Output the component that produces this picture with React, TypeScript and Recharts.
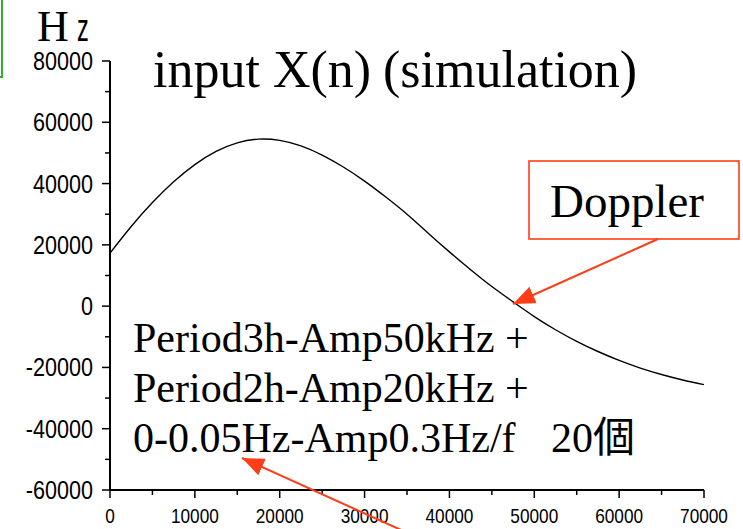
import { LineChart, Line, XAxis, YAxis } from "recharts";

// sample time (x) and simulated Doppler frequency (Hz)
const timeSteps = [
  0, 2500, 5000, 7500, 10000, 12500, 15000, 17500, 20000, 22500, 25000, 27500, 30000, 32500,
  35000, 37500, 40000, 42500, 45000, 47500, 50000, 52500, 55000, 57500, 60000, 62500, 65000,
  67500, 70000,
];
const frequencyHz = [
  17300, 26000, 33800, 40600, 46200, 50500, 53300, 54500, 54100, 52300, 49300, 45400, 40800,
  35600, 30000, 23800, 17700, 11900, 6400, 1400, -3400, -7700, -11500, -14800, -17700, -20200,
  -22300, -24100, -25600,
];

const xTicks = [
  0, 5000, 10000, 15000, 20000, 25000, 30000, 35000, 40000, 45000, 50000, 55000, 60000, 65000,
  70000,
];
const yTicks = [
  -60000, -50000, -40000, -30000, -20000, -10000, 0, 10000, 20000, 30000, 40000, 50000, 60000,
  70000, 80000,
];

const titleParts = ["input X(n)", "(simulation)"];
const unitLabel = ["H", "z"];
const calloutText = "Doppler";
const noteLines = ["Period3h-Amp50kHz +", "Period2h-Amp20kHz +", "0-0.05Hz-Amp0.3Hz/f"];
const noteTail = "20個";

const data = timeSteps.map((t, i) => ({ t, hz: frequencyHz[i] }));

const AXIS_FONT = "'Liberation Sans', Arial, sans-serif";
const SERIF = "'Liberation Serif', 'Times New Roman', 'Noto Sans CJK JP', serif";
const ARROW = "#ff3d17";

const YTick = ({ x, y, payload }: any) => {
  const major = payload.value % 20000 === 0;
  const axisX = x + 17;
  return (
    <g>
      <line x1={axisX - (major ? 8 : 5)} x2={axisX} y1={y} y2={y} stroke="#000" strokeWidth={1.5} />
      {major && (
        <text
          transform={`translate(${x},${y + 9}) scale(0.83,1)`}
          textAnchor="end"
          fontFamily={AXIS_FONT}
          fontSize={26}
          fill="#000"
        >
          {payload.value}
        </text>
      )}
    </g>
  );
};

const XTick = ({ x, y, payload }: any) => {
  const major = payload.value % 10000 === 0;
  const axisY = y - 18;
  return (
    <g>
      <line x1={x} x2={x} y1={axisY} y2={axisY + (major ? 8 : 5)} stroke="#000" strokeWidth={1.5} />
      {major && (
        <text
          transform={`translate(${x},${axisY + 33}) scale(0.82,1)`}
          textAnchor="middle"
          fontFamily={AXIS_FONT}
          fontSize={21}
          fill="#000"
        >
          {payload.value}
        </text>
      )}
    </g>
  );
};

export default function App() {
  return (
    <div style={{ position: "absolute", left: 0, top: 0, width: 743, height: 529, background: "#fff" }}>
      <LineChart width={743} height={529} data={data} margin={{ top: 61, right: 39, bottom: 9, left: 10 }}>
        <XAxis
          dataKey="t"
          type="number"
          domain={[0, 70000]}
          ticks={xTicks}
          interval={0}
          tickSize={8}
          tickMargin={10}
          tickLine={false}
          axisLine={{ stroke: "#000", strokeWidth: 2 }}
          tick={<XTick />}
          height={30}
        />
        <YAxis
          type="number"
          domain={[-60000, 80000]}
          ticks={yTicks}
          interval={0}
          tickSize={8}
          tickMargin={9}
          tickLine={false}
          axisLine={{ stroke: "#000", strokeWidth: 2 }}
          tick={<YTick />}
          width={100}
        />
        <Line
          type="natural"
          dataKey="hz"
          stroke="#000"
          strokeWidth={1.4}
          dot={false}
          isAnimationActive={false}
        />
      </LineChart>

      <svg width={743} height={529} style={{ position: "absolute", left: 0, top: 0, pointerEvents: "none" }}>
        <defs>
          <marker
            id="head"
            markerUnits="userSpaceOnUse"
            markerWidth={22}
            markerHeight={18}
            viewBox="0 0 22 18"
            refX={22}
            refY={9}
            orient="auto"
          >
            <path d="M0,0 L22,9 L0,18 z" fill={ARROW} />
          </marker>
        </defs>

        {/* partial frame at the left edge */}
        <rect x={-20} y={-10} width={22} height={87} fill="none" stroke="#2fae2f" strokeWidth={2} />

        {/* unit label */}
        <text x={37} y={41} fontFamily={SERIF} fontSize={44} fill="#000">
          {unitLabel[0]}
        </text>
        <text transform="translate(77,41) scale(0.62,1)" fontFamily={AXIS_FONT} fontSize={38} fill="#000">
          {unitLabel[1]}
        </text>

        {/* title */}
        <text x={153} y={87} fontFamily={SERIF} fontSize={52} fill="#000">
          {titleParts[0]}
        </text>
        <text x={383} y={87} fontFamily={SERIF} fontSize={52} fill="#000">
          {titleParts[1]}
        </text>

        {/* Doppler callout */}
        <rect x={529} y={161} width={210} height={78} fill="#fff" stroke={ARROW} strokeWidth={1.6} />
        <text x={550} y={217} fontFamily={SERIF} fontSize={47} fill="#000">
          {calloutText}
        </text>
        <line x1={658} y1={239} x2={513} y2={304} stroke={ARROW} strokeWidth={2} markerEnd="url(#head)" />

        {/* signal composition note */}
        {noteLines.map((line, i) => (
          <text key={i} x={133} y={352 + i * 50} fontFamily={SERIF} fontSize={42} fill="#000">
            {line}
            {i === noteLines.length - 1 && <tspan x={551}>{noteTail}</tspan>}
          </text>
        ))}
        <line x1={410} y1={534} x2={242} y2={458} stroke={ARROW} strokeWidth={2} markerEnd="url(#head)" />
      </svg>
    </div>
  );
}
